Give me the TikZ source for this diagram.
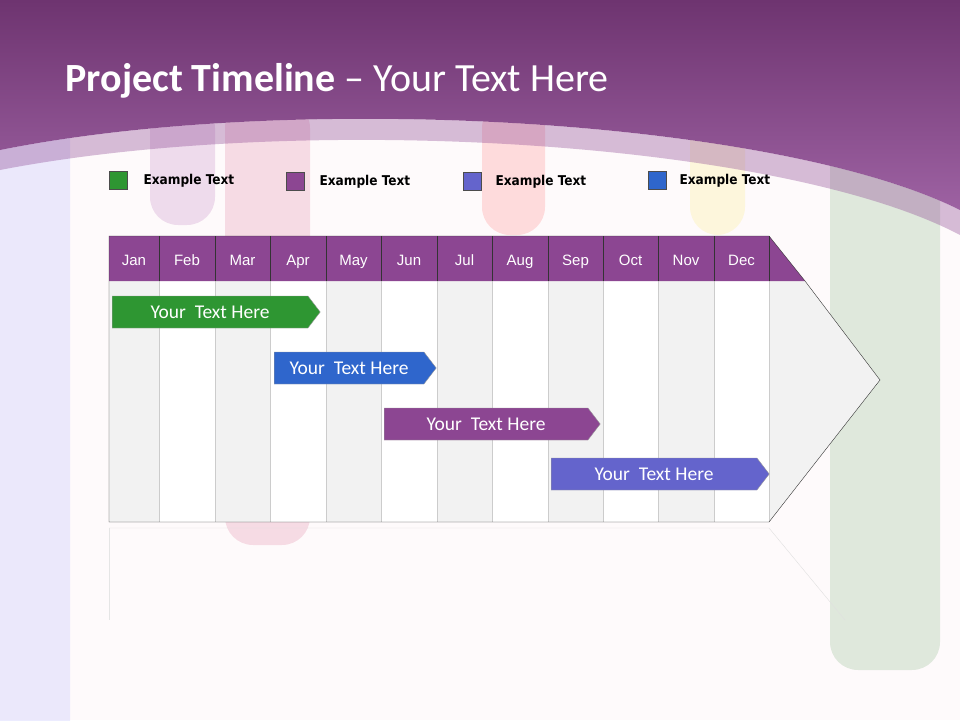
\documentclass[tikz,border=0pt]{standalone}
\usepackage{fontspec}
\setmainfont{Carlito}
\newfontfamily\arialf{Liberation Sans}
\newfontfamily\tahf{DejaVu Sans Condensed}
\usetikzlibrary{shapes.symbols}
\definecolor{purp}{HTML}{8C4692}
\definecolor{purpd}{HTML}{6E3470}
\definecolor{grn}{HTML}{2E9632}
\definecolor{blu}{HTML}{2F66CC}
\definecolor{peri}{HTML}{6464CC}
\definecolor{cellg}{HTML}{F2F2F2}
\tikzset{
 lsq/.style={draw=black!70,minimum width=18pt,minimum height=18pt,inner sep=0pt},
 ltxt/.style={font=\tahf\bfseries\fontsize{13.5}{15}\selectfont,anchor=west},
 mon/.style={font=\arialf\fontsize{15}{17}\selectfont,text=white,anchor=base},
 bar/.style={signal,signal to=east,signal pointer angle=105,draw=black!40,text=white,
   font=\fontsize{19.5}{21}\selectfont,anchor=west,minimum height=32pt,inner sep=0pt},
 drip/.style={rounded corners=28pt,opacity=0.12}
}
\begin{document}
\begin{tikzpicture}[x=1pt,y=-1pt]
\useasboundingbox (0,0) rectangle (960,720);
\fill[purple!2] (0,0) rectangle (960,720);
% faint paint drips
\fill[blue!60!white,drip] (-30,100) rectangle (70,760);
\fill[violet,drip] (150,100) rectangle (215,225);
\fill[purple,drip] (225,100) rectangle (310,545);
\fill[red,drip] (482,100) rectangle (545,235);
\fill[yellow!80!orange,drip] (690,100) rectangle (745,235);
\fill[green!40!black,drip] (830,100) rectangle (940,670);
% header band
\shade[top color=purpd,bottom color=purp!85!white] (0,0) -- (960,0) -- (960,210) .. controls (780,120) and (300,90) .. (0,150) -- cycle;
\fill[purp,opacity=0.35] (0,150) .. controls (300,90) and (780,120) .. (960,210) -- (960,235) .. controls (780,140) and (300,112) .. (0,170) -- cycle;
\node[anchor=west,text=white,font=\fontsize{40}{46}\selectfont] (title) at (62,81) {\textbf{Project Timeline} -- Your Text Here};
% legend
\node[lsq,fill=grn] (l1) at (118,180) {};
\node[ltxt] (t1) at (140,181) {Example Text};
\node[lsq,fill=purp] (l2) at (295,181) {};
\node[ltxt] (t2) at (316,182) {Example Text};
\node[lsq,fill=peri] (l3) at (472,181) {};
\node[ltxt] (t3) at (492,182) {Example Text};
\node[lsq,fill=blu] (l4) at (657,180) {};
\node[ltxt] (t4) at (676,181) {Example Text};
% body
\fill[cellg] (109,281) -- (805,281) -- (880,380) -- (769,522) -- (109,522) -- cycle;
\foreach \a/\b in {159/215,270/326,381/437,492/548,603/658,714/769}
  \fill[white] (\a,281) rectangle (\b,522);
\foreach \x in {159,215,270,326,381,437,492,548,603,658,714,769}
  \draw[black!20] (\x,281) -- (\x,522);
\fill[purp] (109,236) -- (769,236) -- (805,281) -- (109,281) -- cycle;
\foreach \x in {159,215,270,326,381,437,492,548,603,658,714,769}
  \draw[black!80] (\x,236) -- (\x,281);
\draw[black!80] (805,281) -- (769,236) -- (109,236) -- (109,522) -- (769,522) -- (880,380) -- (805,281);
\foreach \m [count=\i] in {Jan,Feb,Mar,Apr,May,Jun,Jul,Aug,Sep,Oct,Nov,Dec}{
  \pgfmathsetmacro{\xa}{{0,109,159,215,270,326,381,437,492,548,603,658,714,769}[\i]}
  \pgfmathsetmacro{\xb}{{0,109,159,215,270,326,381,437,492,548,603,658,714,769}[\i+1]}
  \node[mon] (m\i) at ({(\xa+\xb)/2},265) {\m};}
% reflection
\draw[black!12] (109,528) -- (769,528) -- (845,620);
\draw[black!10] (109,528) -- (109,620);
% bars
\node[bar,fill=grn,minimum width=208pt] (b1) at (112,312) {Your\ \ Text Here};
\node[bar,fill=blu,minimum width=162pt] (b2) at (274,368) {Your\ \ Text Here};
\node[bar,fill=purp,minimum width=216pt] (b3) at (384,424) {Your\ \ Text Here};
\node[bar,fill=peri,minimum width=218pt] (b4) at (551,474) {Your\ \ Text Here};
\end{tikzpicture}
\end{document}
